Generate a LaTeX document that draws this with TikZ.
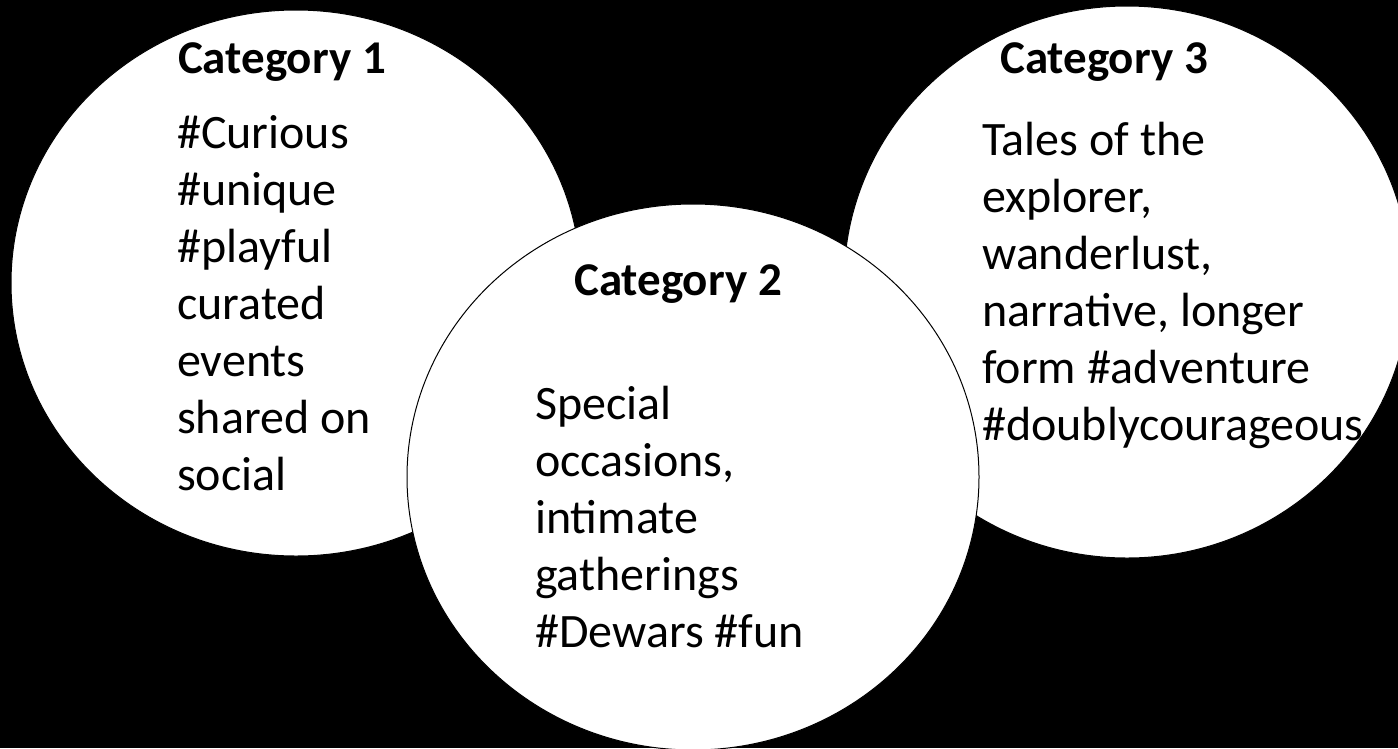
\documentclass[tikz,border=0pt]{standalone}
\usepackage{fontspec}
\setmainfont{Carlito}
\usetikzlibrary{positioning}

\begin{document}
\begin{tikzpicture}
			[x=1pt, y=-1pt,
			 blob/.style={fill=white, draw=black, line width=1pt},
			 head/.style={font=\fontsize{47}{57}\selectfont\bfseries, anchor=base, inner sep=0pt},
			 body/.style={font=\fontsize{48}{57}\selectfont, align=left, anchor=base west, inner sep=0pt}]
		% background %
		\fill[black] (0,0) rectangle (1398,748);
		\useasboundingbox (0,0) rectangle (1398,748);
		\clip (0,0) rectangle (1398,748);

		% circles %
		\draw[blob] (296,283) ellipse [x radius=285, y radius=273];
		\draw[blob] (1127,282) ellipse [x radius=283, y radius=276];
		\draw[blob] (693,477) ellipse [x radius=286, y radius=273];

		% texts (body anchored at the baseline of its last line) %
		\node[head] (cat1) at (282,73) {Category 1};
		\node[body] (txt1) at (177,490) {\#Curious\\\#unique\\\#playful\\curated\\events\\shared on\\social};

		\node[head] (cat2) at (678,295) {Category 2};
		\node[body] (txt2) at (535,647) {Special\\occasions,\\intimate\\gatherings\\\#Dewars \#fun};

		\node[head] (cat3) at (1104,73) {Category 3};
		\node[body] (txt3) at (982,440) {Tales of the\\explorer,\\wanderlust,\\narrative, longer\\form \#adventure\\\#doublycourageous};
		\end{tikzpicture}
\end{document}
